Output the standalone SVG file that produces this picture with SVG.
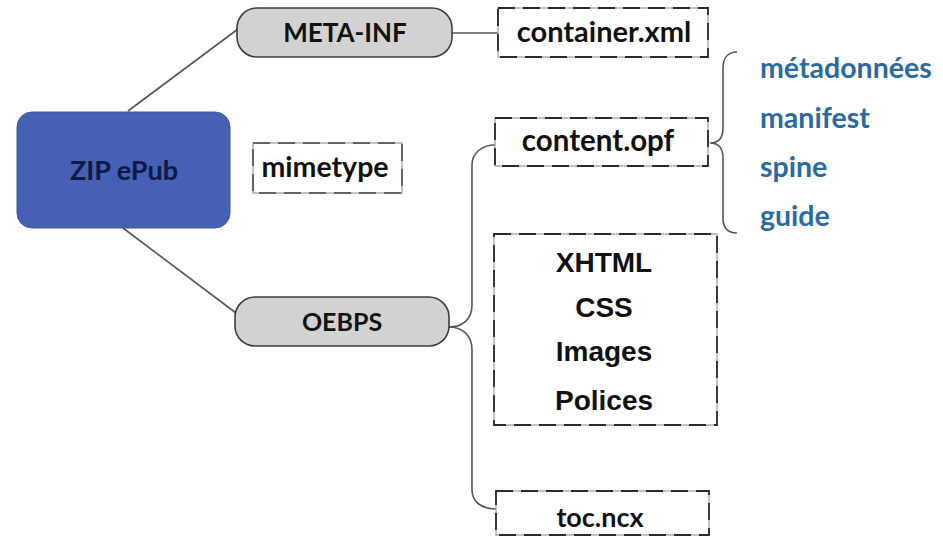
<svg xmlns="http://www.w3.org/2000/svg" width="943" height="538" viewBox="0 0 943 538">
<style>
.conn{fill:none;stroke:#555;stroke-width:1.6}
.pill{fill:#d2d2d2;stroke:#3c3c3c;stroke-width:1.6}
.base{fill:#fff;stroke:#9a9a9a;stroke-width:1.2}
.file{fill:none;stroke:#2a2a2a;stroke-width:1.8;stroke-dasharray:17 8}
.lbl{font-family:Lato,"Open Sans","Liberation Sans",sans-serif;font-weight:bold;fill:#111;text-anchor:middle;font-size:28px}
.ar{font-family:"Liberation Sans",Arial,sans-serif;font-weight:bold;fill:#111;text-anchor:middle;font-size:28px}
.blue{font-family:Lato,"Open Sans","Liberation Sans",sans-serif;font-weight:bold;fill:#2a6aa0;font-size:28.5px}
</style>
<rect width="943" height="538" fill="#fff"/>
<g id="connectors">
<line class="conn" x1="128" y1="111" x2="238" y2="29"/>
<line class="conn" x1="123" y1="228" x2="236" y2="313"/>
<line class="conn" x1="452" y1="33" x2="498" y2="33"/>
<path class="conn" d="M449,327 C462,327 472,320 472,305 V165 C472,153 482,145 495,145"/>
<path class="conn" d="M449,327 C462,327 472,335 472,350 V490 C472,502 482,509 496,509"/>
<path class="conn" d="M737,52 C728,52 723,58 723,68 V128 C723,138 718,143 710,143 C718,143 723,148 723,158 V218 C723,228 728,233 737,233"/>
</g>
<g id="zip-epub">
<rect x="17" y="112" width="213" height="116" rx="15" fill="#4560b5" stroke="#3d56a6" stroke-width="1"/>
<text class="lbl" x="124" y="180" style="fill:#0e1a45;font-size:27px">ZIP ePub</text>
</g>
<g id="meta-inf">
<rect class="pill" x="237" y="8" width="215" height="49" rx="20"/>
<text class="lbl" x="345" y="42" style="font-size:26px">META-INF</text>
</g>
<g id="mimetype">
<rect class="base" x="253" y="143" width="149" height="50"/>
<rect class="file" x="253" y="143" width="149" height="50" style="stroke:#444;stroke-width:1.5"/>
<text class="lbl" x="325" y="177" style="font-size:28.5px">mimetype</text>
</g>
<g id="oebps">
<rect class="pill" x="235" y="297" width="214" height="49" rx="20"/>
<text class="lbl" x="342" y="331" style="font-size:25px">OEBPS</text>
</g>
<g id="container-xml">
<rect class="base" x="498" y="8" width="210" height="49"/>
<rect class="file" x="498" y="8" width="210" height="49"/>
<text class="lbl" x="604" y="42" style="font-size:29px">container.xml</text>
</g>
<g id="content-opf">
<rect class="base" x="495" y="118" width="213" height="48"/>
<rect class="file" x="495" y="118" width="213" height="48"/>
<text class="lbl" x="598" y="151" style="font-size:29.5px">content.opf</text>
</g>
<g id="opf-items">
<text class="blue" x="760" y="78">métadonnées</text>
<text class="blue" x="760" y="128">manifest</text>
<text class="blue" x="760" y="177">spine</text>
<text class="blue" x="760" y="226">guide</text>
</g>
<g id="resources">
<rect class="base" x="494" y="234" width="223" height="191"/>
<rect class="file" x="494" y="234" width="223" height="191"/>
<text class="ar" x="604" y="272">XHTML</text>
<text class="ar" x="604" y="317">CSS</text>
<text class="ar" x="604" y="361">Images</text>
<text class="ar" x="604" y="410">Polices</text>
</g>
<g id="toc-ncx">
<rect class="base" x="496" y="491" width="213" height="44"/>
<rect class="file" x="496" y="491" width="213" height="44"/>
<text class="lbl" x="600" y="527" style="font-size:27px">toc.ncx</text>
</g>
</svg>
